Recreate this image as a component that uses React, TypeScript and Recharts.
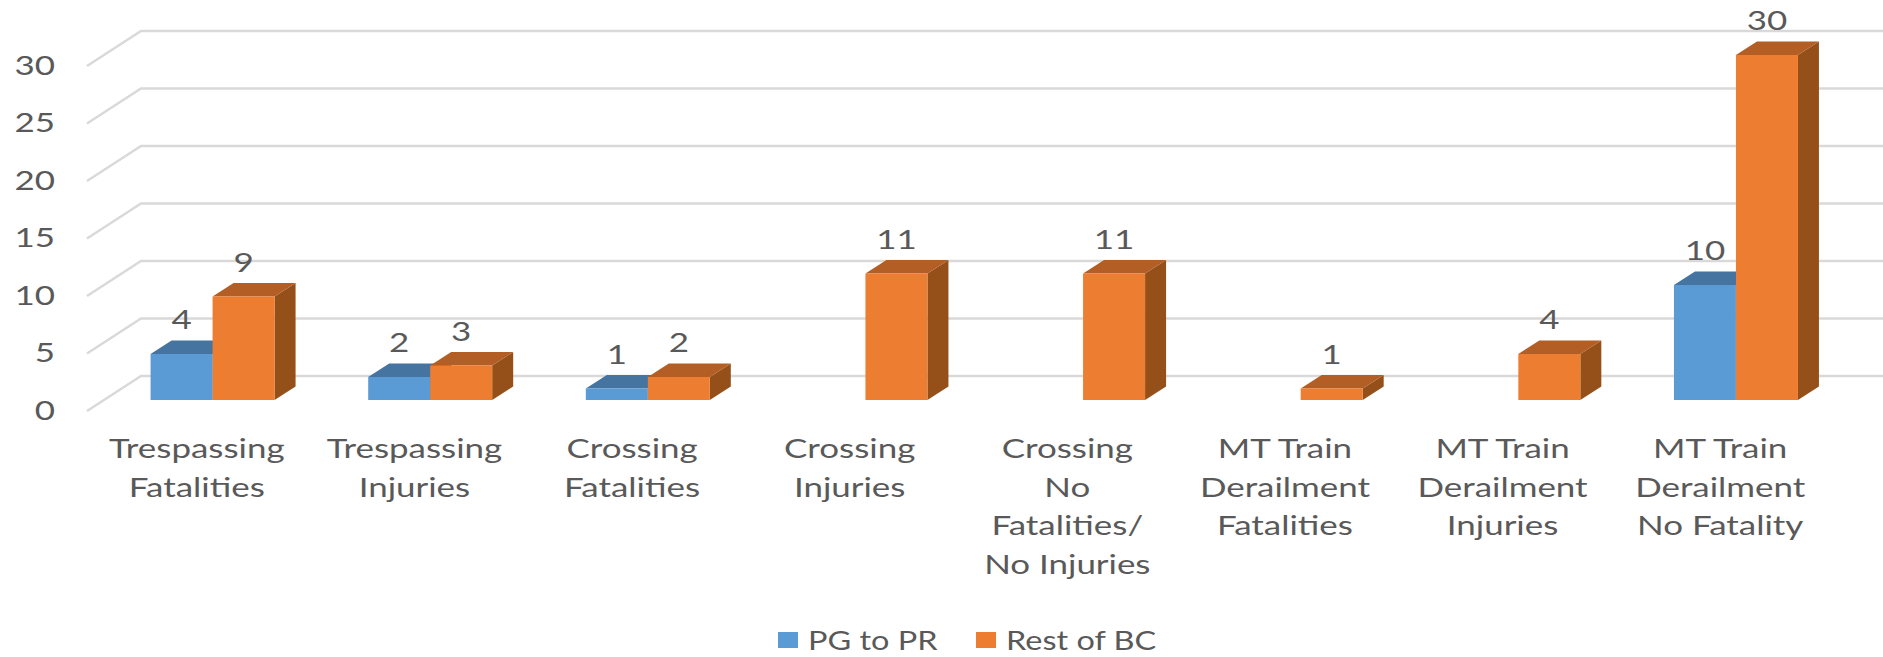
import { Bar, BarChart, CartesianGrid, LabelList, Legend, XAxis, YAxis } from "recharts";

const categories = [
  "Trespassing|Fatalities",
  "Trespassing|Injuries",
  "Crossing|Fatalities",
  "Crossing|Injuries",
  "Crossing|No|Fatalities/|No Injuries",
  "MT Train|Derailment|Fatalities",
  "MT Train|Derailment|Injuries",
  "MT Train|Derailment|No Fatality",
];
const pgToPr = [4, 2, 1, null, null, null, null, 10];
const restOfBc = [9, 3, 2, 11, 11, 1, 4, 30];
const yTicks = [0, 5, 10, 15, 20, 25, 30];

const rows = categories.map((name, i) => ({ name, pgToPr: pgToPr[i], restOfBc: restOfBc[i] }));

const FONT = "Lato, sans-serif";
const TEXT = "#595959";
const FONT_SIZE = 27.5;
// the source picture is a horizontally stretched Excel export
const STRETCH = 1.27;
const LEGEND_STRETCH = 1.18;
// depth of a bar and of the chart floor, Excel 3-D column look
const BAR_DX = 21;
const BAR_DY = 13.5;

function WideText({ x, y, anchor, children }: any) {
  return (
    <text
      transform={`translate(${x} ${y}) scale(${STRETCH} 1)`}
      textAnchor={anchor}
      dominantBaseline="central"
      fontFamily={FONT}
      fontSize={FONT_SIZE}
      fill={TEXT}
    >
      {children}
    </text>
  );
}

function Column3D({ x, y, width, height, fill, top, side }: any) {
  if (!height) return null;
  return (
    <g>
      <path
        d={`M${x + width},${y} l${BAR_DX},${-BAR_DY} v${height} l${-BAR_DX},${BAR_DY} z`}
        fill={side}
      />
      <path
        d={`M${x},${y} l${BAR_DX},${-BAR_DY} h${width} l${-BAR_DX},${BAR_DY} z`}
        fill={top}
      />
      <rect x={x} y={y} width={width} height={height} fill={fill} />
    </g>
  );
}

function GridLine3D({ x1, x2, y1 }: any) {
  return (
    <path
      d={`M${x1 - 17},${y1 + 11} L${x1 + 37},${y1 - 24} H${x2 + 38}`}
      fill="none"
      stroke="#d9d9d9"
      strokeWidth={2.4}
    />
  );
}

function ValueLabel({ x, y, width, value }: any) {
  if (value == null) return null;
  return (
    <WideText x={x + width / 2} y={y - 35} anchor="middle">
      {value}
    </WideText>
  );
}

function CategoryTick({ x, y, payload }: any) {
  const lines = String(payload.value).split("|");
  return (
    <g>
      {lines.map((line, i) => (
        <WideText key={i} x={x - 16} y={y + 40 + i * 38.5} anchor="middle">
          {line}
        </WideText>
      ))}
    </g>
  );
}

function ValueTick({ y, payload }: any) {
  return (
    <WideText x={55} y={y + 9.5} anchor="end">
      {payload.value}
    </WideText>
  );
}

function LegendRow({ payload }: any) {
  return (
    <div style={{ display: "flex", paddingLeft: 778, fontFamily: FONT, fontSize: FONT_SIZE, color: TEXT }}>
      {(payload ?? []).map((item: any) => (
        <div key={item.value} style={{ display: "flex", alignItems: "center", width: 198, lineHeight: "36px", whiteSpace: "nowrap" }}>
          <span style={{ width: 20, height: 16, marginRight: 10, background: item.color, display: "inline-block" }} />
          <span style={{ display: "inline-block", transform: `scaleX(${LEGEND_STRETCH})`, transformOrigin: "left center" }}>
            {item.value}
          </span>
        </div>
      ))}
    </div>
  );
}

export default function App() {
  return (
    <div style={{ position: "absolute", left: 0, top: 0, width: 1883, height: 657, overflow: "hidden", background: "#fff" }}>
      <BarChart
        width={1883}
        height={657}
        data={rows}
        barGap={0}
        barCategoryGap="21.4%"
        margin={{ top: 55, right: 38, bottom: 0, left: 0 }}
      >
        <CartesianGrid vertical={false} horizontal={(props: any) => <GridLine3D key={props.key} {...props} />} />
        <XAxis
          dataKey="name"
          height={257}
          axisLine={false}
          tickLine={false}
          interval={0}
          tick={<CategoryTick />}
        />
        <YAxis
          width={104}
          domain={[0, 30]}
          ticks={yTicks}
          axisLine={false}
          tickLine={false}
          tick={<ValueTick />}
        />
        <Legend
          layout="horizontal"
          verticalAlign="middle"
          align="center"
          wrapperStyle={{ left: 0, top: 622, width: 1883 }}
          content={<LegendRow />}
        />
        <Bar
          dataKey="pgToPr"
          name="PG to PR"
          fill="#5b9bd5"
          isAnimationActive={false}
          shape={<Column3D top="#44749f" side="#376a94" />}
        >
          <LabelList dataKey="pgToPr" content={<ValueLabel />} />
        </Bar>
        <Bar
          dataKey="restOfBc"
          name="Rest of BC"
          fill="#ed7d31"
          isAnimationActive={false}
          shape={<Column3D top="#b25e24" side="#955019" />}
        >
          <LabelList dataKey="restOfBc" content={<ValueLabel />} />
        </Bar>
      </BarChart>
    </div>
  );
}
